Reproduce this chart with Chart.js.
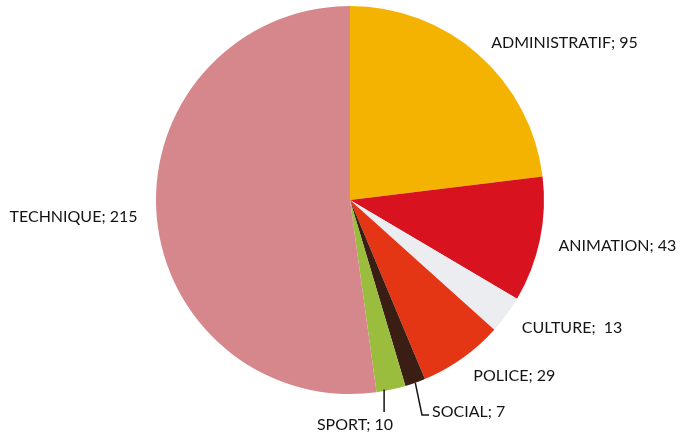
<!DOCTYPE html>
<html>
<head>
<meta charset="utf-8">
<script src="https://cdn.jsdelivr.net/npm/chart.js@4/dist/chart.umd.min.js"></script>
<style>
html,body{margin:0;padding:0;background:#fff;}
#wrap{width:688px;height:434px;position:relative;}
</style>
</head>
<body>
<div id="wrap"><canvas id="c" width="688" height="434"></canvas></div>
<script>
const categories = ["ADMINISTRATIF", "ANIMATION", "CULTURE", "POLICE", "SOCIAL", "SPORT", "TECHNIQUE"];
const values = [95, 43, 13, 29, 7, 10, 215];
const colors = ["#F4B300", "#D8131F", "#ECEDF1", "#E43514", "#3A1D13", "#9BBD3E", "#D5878C"];
const separators = ["; ", "; ", ";  ", "; ", "; ", "; ", "; "];

// label placement tweaks (style only)
const labelTweaks = {
  4: {x: 432, y: 412, align: "left", leader: "social"},
  5: {x: 355, y: 425, align: "center", leader: "sport"}
};

const labelPlugin = {
  id: "pieLabels",
  afterDraw(chart) {
    const ctx = chart.ctx;
    const meta = chart.getDatasetMeta(0);
    ctx.save();
    ctx.font = "16px Lato";
    ctx.fillStyle = "#141414";
    ctx.textBaseline = "middle";
    meta.data.forEach((arc, i) => {
      const p = arc.getProps(["x", "y", "startAngle", "endAngle", "outerRadius"], true);
      const mid = (p.startAngle + p.endAngle) / 2;
      const text = categories[i] + separators[i] + values[i];
      const tw = labelTweaks[i];
      if (tw) {
        const ex = p.x + Math.cos(mid) * p.outerRadius;
        const ey = p.y + Math.sin(mid) * p.outerRadius;
        ctx.strokeStyle = "#141414";
        ctx.lineWidth = 1.5;
        ctx.beginPath();
        if (tw.leader === "social") {
          ctx.moveTo(ex, ey);
          ctx.lineTo(tw.x - 10, tw.y + 3);
          ctx.lineTo(tw.x - 3, tw.y + 3);
        } else {
          ctx.moveTo(ex - 7, ey);
          ctx.lineTo(ex - 7, tw.y - 13);
        }
        ctx.stroke();
        ctx.textAlign = tw.align;
        ctx.fillText(text, tw.x, tw.y);
        return;
      }
      const r = p.outerRadius + 19;
      const lx = p.x + Math.cos(mid) * r;
      const ly = p.y + Math.sin(mid) * r;
      ctx.textAlign = Math.cos(mid) >= 0 ? "left" : "right";
      ctx.fillText(text, lx, ly + 2);
    });
    ctx.restore();
  }
};

new Chart(document.getElementById("c"), {
  type: "pie",
  data: {
    labels: categories,
    datasets: [{
      data: values,
      backgroundColor: colors,
      borderWidth: 0
    }]
  },
  options: {
    responsive: false,
    animation: false,
    layout: {padding: {left: 156, right: 144, top: 6, bottom: 40}},
    plugins: {legend: {display: false}, tooltip: {enabled: false}}
  },
  plugins: [labelPlugin]
});
</script>
</body>
</html>
